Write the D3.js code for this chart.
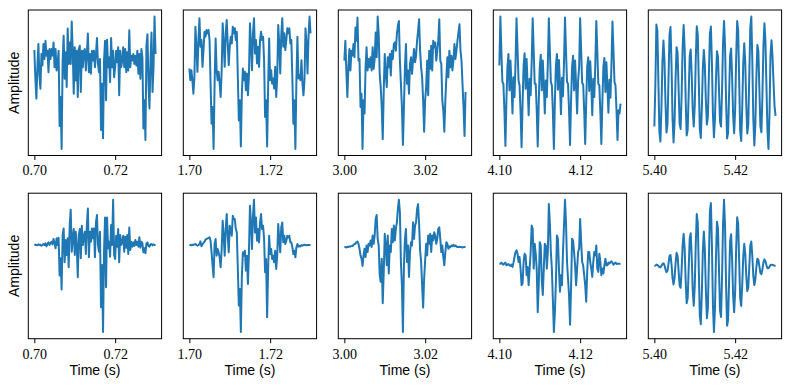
<!DOCTYPE html>
<html><head><meta charset="utf-8">
<script src="https://cdn.jsdelivr.net/npm/d3@7"></script>
<style>html,body{margin:0;padding:0;background:#fff;}svg{display:block;}</style>
</head><body><svg id="chart" width="790" height="390"></svg>
<script>
// ---- data (amplitude in arbitrary units, one reading every 0.25 ms) ----
const startTimes = [0.70, 1.70, 3.00, 4.10, 5.40];
const tickValues = [[0.70, 0.72], [1.70, 1.72], [3.00, 3.02], [4.10, 4.12], [5.40, 5.42]];
const tickLabels = [["0.70", "0.72"], ["1.70", "1.72"], ["3.00", "3.02"], ["4.10", "4.12"], ["5.40", "5.42"]];
const sampleRate = 4000;
const yLabel = "Amplitude";
const xLabel = "Time (s)";

const raw1 = [102,15,-45,50,120,25,-15,90,55,120,75,130,85,100,35,105,75,105,85,125,50,105,40,60,100,-128,-40,-197,70,145,15,95,-10,167,60,125,60,188,100,-30,110,10,100,-40,105,115,-25,100,50,100,105,40,90,152,35,90,30,100,70,100,50,90,138,60,35,75,-140,0,-165,70,130,-50,133,50,80,5,138,50,100,20,50,100,65,110,-35,100,50,70,110,50,105,35,95,40,162,50,85,70,90,60,85,55,100,30,90,15,105,80,-135,-50,-170,115,150,0,-75,70,155,-25,50,203,90];
const raw2 = [45,10,40,10,-30,20,170,110,35,130,195,110,130,50,100,155,140,160,150,160,130,0,-120,-70,-195,0,135,40,10,35,0,-40,40,180,120,50,150,190,120,55,110,140,120,170,150,165,130,155,20,-110,-50,-188,-30,45,10,35,-20,30,-35,25,180,120,40,150,195,90,130,60,110,50,130,155,130,140,70,-100,-50,-188,-10,135,10,40,0,15,-15,50,-40,20,175,120,30,145,195,110,150,100,130,165,150,165,120,130,15,-120,-50,-195,10,140,15,25,10,70,0,-35,10,165,120,30,140,200,150];
const raw3 = [70,130,35,-40,50,105,40,100,85,120,80,170,130,200,70,75,-70,-30,-197,-50,-90,50,110,40,75,50,80,40,110,45,75,155,80,203,150,30,-10,-70,-168,-20,90,30,-10,80,50,90,25,100,75,120,125,100,150,175,190,70,0,-70,-185,-70,50,120,0,40,-30,60,80,30,70,105,65,85,130,160,195,100,50,20,-50,-145,-50,-10,70,-35,100,45,115,40,130,110,125,70,100,130,195,70,60,-50,-80,-145,-50,20,80,20,100,50,85,40,70,120,75,100,130,155,180,100,70,0,-70,-158,-25];
const raw4 = [55,203,100,5,0,-80,-188,-50,50,90,-20,70,0,-90,20,-40,60,198,105,10,-5,-85,-192,-60,55,92,-15,75,-5,-95,15,-35,65,198,100,0,0,-80,-190,-55,50,88,-20,70,0,-90,10,-40,60,198,102,5,-5,-85,-197,-50,55,90,-18,72,-2,-92,18,-38,62,200,100,5,0,-80,-185,-50,50,85,-20,70,-5,-90,10,50,198,100,2,-2,-82,-182,-55,52,80,-22,68,0,-95,15,-40,58,190,98,0,-5,-85,-182,-55,50,78,-25,65,-8,-88,12,-42,55,188,100,5,-5,-80,-170,-80,-90,-60];
const raw5 = [-130,-4,176,156,5,-146,-175,-75,64,128,70,-57,-148,-123,12,146,169,55,-105,-178,-118,14,108,90,-15,-120,-137,-35,109,175,105,-48,-157,-139,-29,81,101,25,-81,-130,-67,72,171,145,4,-137,-164,-77,44,100,53,-51,-124,-101,24,149,170,61,-92,-162,-108,11,96,79,-18,-115,-130,-26,120,187,112,-50,-166,-148,-33,83,104,20,-96,-150,-79,76,187,159,7,-144,-173,-76,58,120,63,-62,-151,-124,22,168,200,68,-107,-187,-123,15,115,96,-17,-129,-147,-39,111,180,125,-8,-142,-197,-95,84,129,81,3,-68,-98];

const win1 = [0,1,0,-1,2,0,1,-2,0,3,0,5,-4,3,8,0,6,10,2,18,5,-10,20,0,22,-92,-40,-134,30,50,-52,15,-30,20,-67,60,106,-20,20,48,-30,40,-5,-97,30,48,-40,58,0,25,40,-27,60,110,-37,40,10,50,20,50,-37,68,90,0,-20,40,-187,-60,-262,-17,83,-127,83,-10,10,-35,60,0,136,-30,-42,28,-5,48,-52,30,0,10,28,-20,25,-8,30,-27,53,-15,10,-5,8,-3,15,0,10,-5,23,-8,10,5,-22,-10,-25,5,8,-3,-5,2,3,-1,2,0,0];
const win2 = [0,0,-1,1,0,2,3,0,-2,0,2,11,-4,2,6,10,16,18,20,21,23,13,-22,-62,-97,3,18,-32,-12,-22,-37,-67,-12,73,28,-32,48,93,28,-22,58,48,28,88,78,78,48,38,-72,-182,-132,-262,-92,-22,-32,-17,-77,-32,-117,-22,118,68,-12,88,136,38,83,13,48,8,68,93,48,58,18,-82,-42,-217,-72,28,-27,-12,-42,-32,-52,-17,-72,-32,63,18,-22,53,68,8,28,3,13,28,23,28,8,8,-7,-27,-17,-37,-7,3,-5,-2,-4,0,-2,0,1,0,-1,0,0,0,0];
const win3 = [0,0,-1,1,0,2,2,3,3,7,9,10,15,17,10,-5,-25,-35,-57,-25,-5,-30,5,-15,10,5,20,0,35,10,35,85,97,25,5,-85,-105,-35,-170,-75,40,5,-55,35,-80,5,-15,55,15,65,20,55,75,115,143,105,-45,-115,-257,-55,25,55,-45,5,-90,-15,15,5,75,25,65,75,115,130,70,-10,-45,-115,-183,-95,-40,10,-25,35,10,40,-15,35,20,45,35,10,25,55,60,25,-15,5,-30,-55,-15,15,10,-5,2,0,5,3,7,3,5,2,0,0,1,0,0,-1,0,0,0];
const win4 = [0,0,3,-1,-3,1,3,-5,-3,-1,-5,-7,-3,-10,3,20,35,40,30,5,20,-15,-65,-60,5,30,25,-35,-10,-65,-15,35,115,105,-15,60,30,-15,-147,-65,65,55,-50,-95,-15,60,55,-15,35,180,125,35,-15,-110,-207,-145,-55,85,75,-15,-85,-35,-65,35,115,193,125,5,-45,-95,-185,-75,75,70,35,-5,-65,-15,35,45,135,65,5,-5,-35,-65,-115,-25,35,35,5,-15,-40,5,35,25,55,-15,-25,30,5,-35,-15,-30,-5,15,-5,-5,3,0,5,7,2,-3,1,3,-1,0,0,0,0];
const win5 = [0,1,4,3,0,-3,-4,0,6,8,2,-10,-19,-15,7,30,33,4,-37,-56,-36,8,40,31,-14,-59,-66,-12,63,97,53,-44,-113,-97,-7,83,99,27,-74,-120,-61,66,157,131,-10,-150,-176,-84,45,104,49,-72,-158,-129,18,165,190,62,-118,-200,-130,24,134,113,-10,-134,-154,-38,125,200,120,-55,-181,-162,-44,74,96,19,-90,-140,-79,53,147,127,14,-99,-121,-59,27,67,37,-29,-76,-65,-2,62,74,30,-30,-58,-41,-4,22,19,-1,-21,-25,-10,11,20,14,2,-7,-7,-2,3,4,3,2,1,0];

const rowSeries = [[raw1, raw2, raw3, raw4, raw5], [win1, win2, win3, win4, win5]];

// ---- layout ----
const colLeft = [28.3, 183.3, 338.3, 493.3, 648.3];
const panelW = 133.3;
const rowTop = [10, 193.2];
const panelH = 145.5;
const lineColor = "#1f77b4";

const svg = d3.select("#chart");
svg.append("rect").attr("width", 790).attr("height", 390).attr("fill", "#fff");

rowSeries.forEach((series, r) => {
  series.forEach((vals, c) => {
    const t0 = startTimes[c];
    const span = (vals.length - 1) / sampleRate;
    const pts = vals.map((v, i) => ({t: t0 + i / sampleRate, v}));
    const x = d3.scaleLinear().domain([t0 - 0.05 * span, t0 + span * 1.05]).range([0, panelW]);
    const [mn, mx] = d3.extent(vals);
    const pad = (mx - mn) * 0.05;
    const y = d3.scaleLinear().domain([mn - pad, mx + pad]).range([panelH, 0]);

    const g = svg.append("g").attr("transform", `translate(${colLeft[c]},${rowTop[r]})`);

    g.append("path")
      .datum(pts)
      .attr("fill", "none")
      .attr("stroke", lineColor)
      .attr("stroke-width", 2)
      .attr("stroke-linejoin", "round")
      .attr("d", d3.line().x(d => x(d.t)).y(d => y(d.v)));

    g.append("rect")
      .attr("x", 0).attr("y", 0).attr("width", panelW).attr("height", panelH)
      .attr("fill", "none").attr("stroke", "#000").attr("stroke-width", 1);

    const ax = g.append("g").attr("transform", `translate(0,${panelH})`)
      .call(d3.axisBottom(x).tickValues(tickValues[c]).tickFormat((d, i) => tickLabels[c][i]).tickSize(4.5).tickPadding(5.5));
    ax.select(".domain").remove();
    ax.selectAll(".tick line").attr("stroke", "#000").attr("stroke-width", 1);
    ax.selectAll(".tick text").attr("fill", "#000")
      .style("font-family", "'Liberation Serif', 'DejaVu Serif', serif").style("font-size", "14px");

    if (c === 0) {
      g.append("text")
        .attr("transform", `translate(${19 - colLeft[c]},${panelH / 2}) rotate(-90)`)
        .attr("text-anchor", "middle")
        .style("font-family", "'Liberation Sans', Arial, sans-serif").style("font-size", "14px")
        .attr("fill", "#000")
        .text(yLabel);
    }
    if (r === 1) {
      g.append("text")
        .attr("x", panelW / 2).attr("y", 375.5 - rowTop[r])
        .attr("text-anchor", "middle")
        .style("font-family", "'Liberation Sans', Arial, sans-serif").style("font-size", "14px")
        .attr("fill", "#000")
        .text(xLabel);
    }
  });
});
</script>
</body></html>
